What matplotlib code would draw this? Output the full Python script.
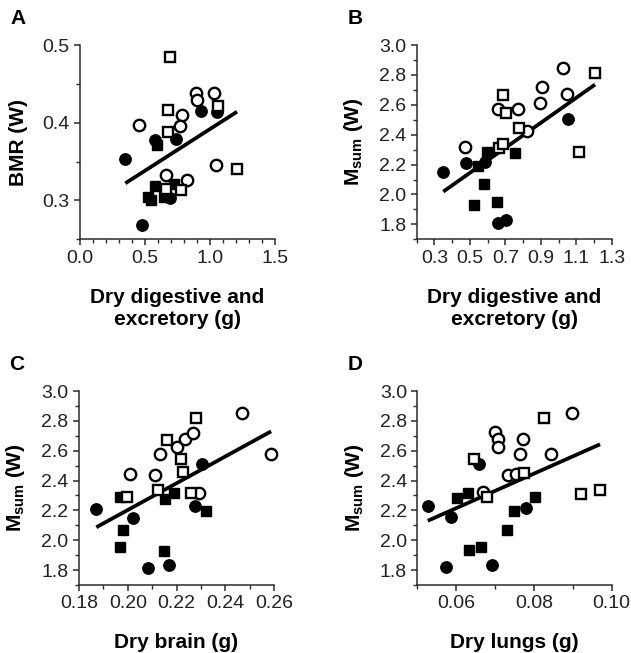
import matplotlib

matplotlib.use("Agg")

import matplotlib.pyplot as plt
import numpy as np
from matplotlib.ticker import FixedLocator, MultipleLocator

plt.rcParams["font.family"] = ["Liberation Sans", "DejaVu Sans"]
plt.rcParams["mathtext.fontset"] = "custom"
plt.rcParams["mathtext.rm"] = "Liberation Sans"
plt.rcParams["mathtext.bf"] = "Liberation Sans:bold"

# ---- Panel A: BMR vs dry digestive and excretory mass ----
a_fc_x = [0.349, 0.578, 0.737, 0.932, 1.056, 0.475, 0.696]
a_fc_y = [0.353, 0.378, 0.379, 0.415, 0.414, 0.268, 0.303]
a_oc_x = [0.457, 0.896, 1.035, 0.904, 0.789, 0.771, 1.045, 0.660, 0.822]
a_oc_y = [0.397, 0.438, 0.438, 0.429, 0.410, 0.396, 0.346, 0.333, 0.326]
a_fs_x = [0.591, 0.578, 0.527, 0.545, 0.647, 0.724]
a_fs_y = [0.371, 0.319, 0.304, 0.301, 0.305, 0.321]
a_os_x = [0.690, 0.676, 1.060, 0.676, 1.210, 0.660, 0.780]
a_os_y = [0.484, 0.417, 0.421, 0.388, 0.341, 0.315, 0.313]
a_fit = (0.2847, 0.107)

# ---- Panel B: Msum vs dry digestive and excretory mass ----
b_fc_x = [0.350, 0.476, 1.056, 0.657, 0.702, 0.585]
b_fc_y = [2.148, 2.208, 2.503, 1.811, 1.829, 2.220]
b_oc_x = [0.473, 1.027, 0.905, 0.896, 1.046, 0.657, 0.770, 0.820]
b_oc_y = [2.315, 2.844, 2.717, 2.610, 2.672, 2.572, 2.572, 2.427]
b_fs_x = [0.548, 0.599, 0.755, 0.580, 0.525, 0.655]
b_fs_y = [2.192, 2.286, 2.280, 2.070, 1.929, 1.952]
b_os_x = [0.685, 0.702, 1.206, 1.116, 0.666, 0.685, 0.777]
b_os_y = [2.665, 2.543, 2.810, 2.286, 2.308, 2.337, 2.442]
b_fit = (1.726, 0.837)

# ---- Panel C: Msum vs dry brain mass ----
c_fc_x = [0.1871, 0.2023, 0.2306, 0.2276, 0.2084, 0.2168]
c_fc_y = [2.210, 2.150, 2.513, 2.228, 1.813, 1.834]
c_oc_x = [0.2008, 0.2132, 0.2112, 0.2201, 0.2236, 0.2269, 0.2470, 0.2588, 0.2292]
c_oc_y = [2.441, 2.581, 2.435, 2.625, 2.679, 2.720, 2.850, 2.581, 2.316]
c_fs_x = [0.1968, 0.1980, 0.1968, 0.2149, 0.2153, 0.2191, 0.2321]
c_fs_y = [2.289, 2.071, 1.952, 1.930, 2.278, 2.318, 2.199]
c_os_x = [0.1996, 0.2125, 0.2162, 0.2218, 0.2225, 0.2280, 0.2258]
c_os_y = [2.293, 2.334, 2.675, 2.547, 2.457, 2.821, 2.316]
c_fit = (0.4106, 8.96)

# ---- Panel D: Msum vs dry lung mass ----
d_fc_x = [0.0527, 0.0587, 0.0659, 0.0779, 0.0574, 0.0691]
d_fc_y = [2.228, 2.154, 2.509, 2.215, 1.818, 1.834]
d_oc_x = [0.0700, 0.0708, 0.0708, 0.0773, 0.0764, 0.0844, 0.0899, 0.0670, 0.0732, 0.0753]
d_oc_y = [2.726, 2.681, 2.625, 2.681, 2.581, 2.581, 2.850, 2.323, 2.435, 2.446]
d_fs_x = [0.0601, 0.0631, 0.0749, 0.0730, 0.0804, 0.0633, 0.0664]
d_fs_y = [2.284, 2.318, 2.199, 2.071, 2.289, 1.934, 1.952]
d_os_x = [0.0647, 0.0680, 0.0774, 0.0827, 0.0920, 0.0970]
d_os_y = [2.547, 2.289, 2.450, 2.821, 2.311, 2.334]
d_fit = (1.5207, 11.57)

MSUM_LABEL = r"$\mathbf{M}_{\mathbf{sum}}$" + " (W)"
MSUM_TICKS = [1.8, 2.0, 2.2, 2.4, 2.6, 2.8, 3.0]

panels = [
    dict(letter="A", rect=(80, 45, 274.7, 239.3),
         groups=(a_fc_x, a_fc_y, a_oc_x, a_oc_y, a_fs_x, a_fs_y, a_os_x, a_os_y),
         fit=a_fit, xlim=(0, 1.5), ylim=(0.25, 0.5),
         xmajor=[0.0, 0.5, 1.0, 1.5], xminor=0.1, xfmt="%.1f",
         ymajor=[0.3, 0.4, 0.5], yminor=0.05, yfmt="%.1f",
         xlabel="Dry digestive and\nexcretory (g)", ylabel="BMR (W)"),
    dict(letter="B", rect=(416.7, 45, 611.7, 239.3),
         groups=(b_fc_x, b_fc_y, b_oc_x, b_oc_y, b_fs_x, b_fs_y, b_os_x, b_os_y),
         fit=b_fit, xlim=(0.2, 1.3), ylim=(1.7, 3.0),
         xmajor=[0.3, 0.5, 0.7, 0.9, 1.1, 1.3], xminor=0.1, xfmt="%.1f",
         ymajor=MSUM_TICKS, yminor=0.1, yfmt="%.1f",
         xlabel="Dry digestive and\nexcretory (g)", ylabel=MSUM_LABEL),
    dict(letter="C", rect=(79, 391, 274, 585),
         groups=(c_fc_x, c_fc_y, c_oc_x, c_oc_y, c_fs_x, c_fs_y, c_os_x, c_os_y),
         fit=c_fit, xlim=(0.18, 0.26), ylim=(1.7, 3.0),
         xmajor=[0.18, 0.20, 0.22, 0.24, 0.26], xminor=0.01, xfmt="%.2f",
         ymajor=MSUM_TICKS, yminor=0.1, yfmt="%.1f",
         xlabel="Dry brain (g)", ylabel=MSUM_LABEL),
    dict(letter="D", rect=(417.3, 391, 611.7, 585),
         groups=(d_fc_x, d_fc_y, d_oc_x, d_oc_y, d_fs_x, d_fs_y, d_os_x, d_os_y),
         fit=d_fit, xlim=(0.05, 0.10), ylim=(1.7, 3.0),
         xmajor=[0.06, 0.08, 0.10], xminor=0.01, xfmt="%.2f",
         ymajor=MSUM_TICKS, yminor=0.1, yfmt="%.1f",
         xlabel="Dry lungs (g)", ylabel=MSUM_LABEL),
]

W, H = 631, 653
fig = plt.figure(figsize=(W / 100, H / 100), dpi=100)
AX_COLOR = "#2b2b2b"

for p in panels:
    x0, y0, x1, y1 = p["rect"]
    ax = fig.add_axes([x0 / W, 1 - y1 / H, (x1 - x0) / W, (y1 - y0) / H])
    fc_x, fc_y, oc_x, oc_y, fs_x, fs_y, os_x, os_y = p["groups"]

    all_x = np.concatenate([fc_x, oc_x, fs_x, os_x])
    xs = np.array([all_x.min(), all_x.max()])
    b0, b1 = p["fit"]
    ax.plot(xs, b0 + b1 * xs, color="black", linewidth=2.7, zorder=2,
            solid_capstyle="butt", clip_on=False)

    kw = dict(linestyle="none", mec="black", clip_on=False)
    ax.plot(fc_x, fc_y, "o", ms=8.2, mfc="black", mew=1.0, zorder=3, **kw)
    ax.plot(fs_x, fs_y, "s", ms=7.6, mfc="black", mew=1.0, zorder=3, **kw)
    ax.plot(oc_x, oc_y, "o", ms=8.2, mfc="white", mew=1.7, zorder=4, **kw)
    ax.plot(os_x, os_y, "s", ms=7.4, mfc="white", mew=1.7, zorder=4, **kw)

    ax.set_xlim(*p["xlim"])
    ax.set_ylim(*p["ylim"])
    ax.xaxis.set_major_locator(FixedLocator(p["xmajor"]))
    ax.xaxis.set_minor_locator(MultipleLocator(p["xminor"]))
    ax.yaxis.set_major_locator(FixedLocator(p["ymajor"]))
    ax.yaxis.set_minor_locator(MultipleLocator(p["yminor"]))
    ax.xaxis.set_major_formatter(plt.FormatStrFormatter(p["xfmt"]))
    ax.yaxis.set_major_formatter(plt.FormatStrFormatter(p["yfmt"]))

    for side in ("top", "right"):
        ax.spines[side].set_visible(False)
    for side in ("left", "bottom"):
        ax.spines[side].set_linewidth(1.1)
        ax.spines[side].set_color(AX_COLOR)
    ax.tick_params(which="major", length=4.5, width=1.1, color=AX_COLOR,
                   labelcolor="#222222", labelsize=14, pad=3)
    ax.tick_params(which="minor", length=2.8, width=1.0, color=AX_COLOR)

    ax.set_xlabel(p["xlabel"], fontsize=15, fontweight="bold", labelpad=15,
                  linespacing=1.2)
    ax.set_ylabel(p["ylabel"], fontsize=15, fontweight="bold", labelpad=10)
    fig.text((x0 - 62) / W, 1 - (y0 - 26) / H, p["letter"], fontsize=15,
             fontweight="bold", ha="center", va="center")

fig.savefig("out.png", dpi=100)
